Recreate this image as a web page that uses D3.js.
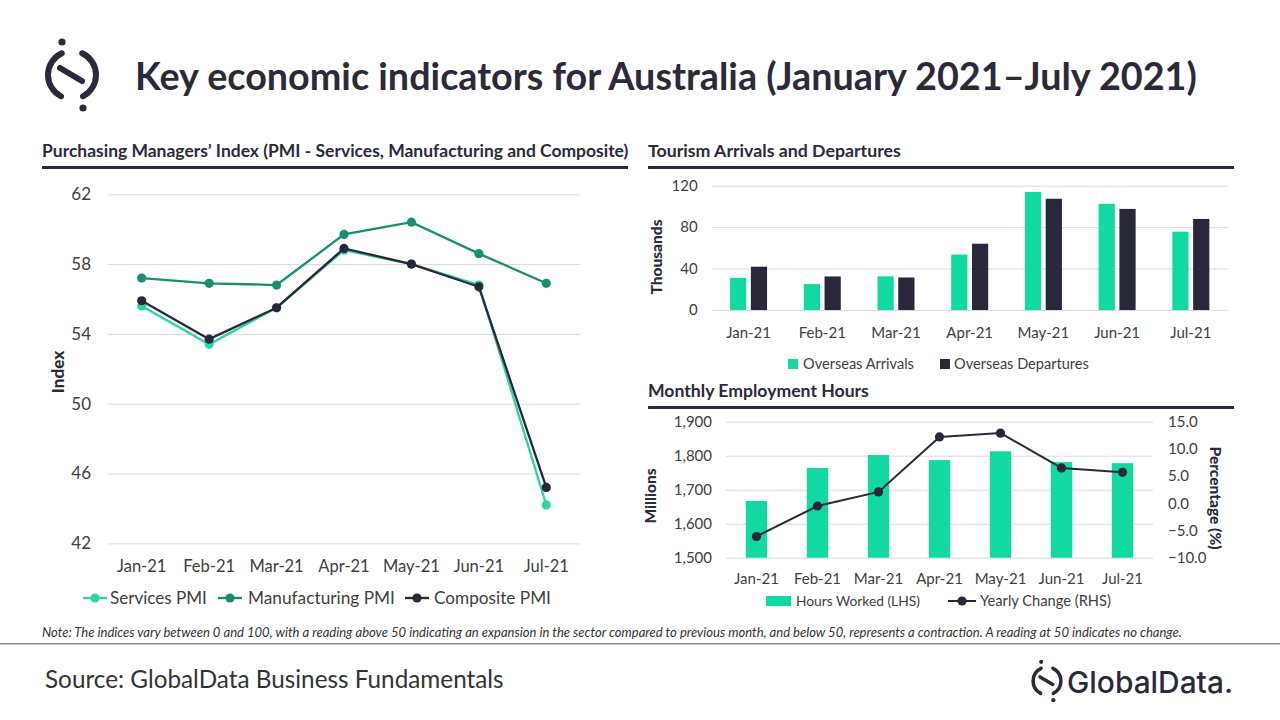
<!DOCTYPE html>
<html><head><meta charset="utf-8">
<script src="https://cdn.jsdelivr.net/npm/d3@7"></script>
<style>
html,body{margin:0;padding:0;background:#fff;}
svg{display:block;}
</style></head>
<body>
<svg id="c" width="1280" height="720"></svg>
<script>
// ---------- DATA ----------
const months = ["Jan-21","Feb-21","Mar-21","Apr-21","May-21","Jun-21","Jul-21"];
const pmiTicks = [42,46,50,54,58,62];
const servicesPMI = [55.6,53.4,55.5,58.8,58.0,56.8,44.2];
const manufacturingPMI = [57.2,56.9,56.8,59.7,60.4,58.6,56.9];
const compositePMI = [55.9,53.7,55.5,58.9,58.0,56.7,45.2];
const tourismTicks = [0,40,80,120];
const overseasArrivals = [31.0,25.0,32.5,53.5,114.0,102.5,75.6];
const overseasDepartures = [41.8,32.4,31.4,64.0,107.4,97.6,87.9];
const hoursTicks = [1500,1600,1700,1800,1900];
const changeTicks = [-10,-5,0,5,10,15];
const hoursWorked = [1667,1764,1802,1787,1813,1781,1778];
const yearlyChange = [-6.1,-0.5,2.1,12.2,12.9,6.5,5.7];

// ---------- STYLE ----------
const FONT = "Lato, 'Open Sans', sans-serif";
const DARK = "#2a2a3b";
const C_SERV = "#2ad6a2";
const C_MANU = "#1a8e70";
const C_COMP = "#28283a";
const C_GREEN = "#12d9a0";
const GRID = "#d9d9d9";
const TICK = "#404040";

const svg = d3.select("#c");

function fit(sel, w){
  const l = sel.node().getComputedTextLength();
  const fs = parseFloat(sel.attr("font-size"));
  if (l > 0) sel.attr("font-size", fs * w / l);
  return sel;
}
function txt(x, y, s, fs, opts={}){
  const t = svg.append("text").attr("x", x).attr("y", y).text(s)
    .attr("font-family", opts.family || FONT).attr("font-size", fs)
    .attr("fill", opts.fill || DARK)
    .attr("font-weight", opts.weight || "normal");
  if (opts.style) t.attr("font-style", opts.style);
  if (opts.anchor) t.attr("text-anchor", opts.anchor);
  if (opts.width) fit(t, opts.width);
  return t;
}
function vlabel(x, y, s, fs, rot){
  svg.append("text").attr("transform", `translate(${x},${y}) rotate(${rot})`).attr("text-anchor", "middle")
    .attr("font-family", FONT).attr("font-weight", "900").attr("font-size", fs).attr("fill", DARK).text(s);
}

// ---------- LOGO ----------
function drawLogo(cx, cy, s){
  const g = svg.append("g").attr("transform", `translate(${cx},${cy}) scale(${s})`);
  const arc = d3.arc().innerRadius(21).outerRadius(27).cornerRadius(3);
  const deg = Math.PI/180;
  g.append("path").attr("d", arc({startAngle: 200*deg, endAngle: 342*deg})).attr("fill", DARK);
  g.append("path").attr("d", arc({startAngle: 18*deg, endAngle: 160*deg})).attr("fill", DARK);
  g.append("path").attr("d", "M-12,-7 L10,6")
    .attr("fill", "none").attr("stroke", DARK).attr("stroke-width", 6).attr("stroke-linecap","round");
  g.append("circle").attr("cx", -10).attr("cy", -33).attr("r", 3.6).attr("fill", DARK);
  g.append("circle").attr("cx", 11).attr("cy", 33).attr("r", 3.6).attr("fill", DARK);
}
drawLogo(72, 75, 1.0);
drawLogo(1047, 681, 0.58);

// ---------- TITLES ----------
txt(135, 90, "Key economic indicators for Australia (January 2021\u2013July 2021)", 34, {weight:"bold", width:1062});

txt(42, 157, "Purchasing Managers\u2019 Index (PMI - Services, Manufacturing and Composite)", 17, {weight:"bold", width:587});
txt(648, 157, "Tourism Arrivals and Departures", 17, {weight:"bold", width:253});
txt(648, 397, "Monthly Employment Hours", 17, {weight:"bold", width:221});
svg.append("rect").attr("x", 42).attr("y", 166).attr("width", 586).attr("height", 3).attr("fill", DARK);
svg.append("rect").attr("x", 648).attr("y", 166).attr("width", 586).attr("height", 3).attr("fill", DARK);
svg.append("rect").attr("x", 648).attr("y", 406).attr("width", 586).attr("height", 3).attr("fill", DARK);

function styleAxis(g, fs){
  g.select(".domain").remove();
  g.selectAll(".tick line").remove();
  g.selectAll("text").attr("font-family", FONT).attr("font-size", fs).attr("fill", TICK);
}
function grid(g, scale, ticks, x0, x1){
  g.append("g").attr("transform", `translate(${x0},0)`)
    .call(d3.axisLeft(scale).tickValues(ticks).tickSize(-(x1-x0)).tickFormat(""))
    .call(a => { a.select(".domain").remove(); a.selectAll(".tick line").attr("stroke", GRID).attr("stroke-width", 1); });
}

// ---------- PMI CHART ----------
{
  const x = d3.scaleBand().domain(months).range([108, 580]);
  const y = d3.scaleLinear().domain([42, 62]).range([543.3, 194.3]);
  const g = svg.append("g");
  grid(g, y, pmiTicks, 108, 580);
  g.append("g").attr("transform", "translate(108,0)")
    .call(d3.axisLeft(y).tickValues(pmiTicks).tickSize(0).tickPadding(17))
    .call(a => styleAxis(a, 17));
  g.append("g").attr("transform", "translate(0,543.3)")
    .call(d3.axisBottom(x).tickSize(0).tickPadding(17))
    .call(a => styleAxis(a, 16.5));
  const cx = m => x(m) + x.bandwidth()/2;
  const series = [[servicesPMI, C_SERV], [manufacturingPMI, C_MANU], [compositePMI, C_COMP]];
  series.forEach(([vals, col]) => {
    const line = d3.line().x((d,i) => cx(months[i])).y(d => y(d));
    g.append("path").attr("d", line(vals)).attr("fill", "none").attr("stroke", col).attr("stroke-width", 2.3);
    g.selectAll(null).data(vals).enter().append("circle")
      .attr("cx", (d,i) => cx(months[i])).attr("cy", d => y(d)).attr("r", 4.6).attr("fill", col);
  });
  vlabel(64, 372, "Index", 17, -90);
  // legend
  const leg = [["Services PMI", C_SERV, 83, 110, 97], ["Manufacturing PMI", C_MANU, 218, 248, 147], ["Composite PMI", C_COMP, 405, 434, 117]];
  leg.forEach(([name, col, sx, tx, tw]) => {
    svg.append("line").attr("x1", sx).attr("x2", sx+24).attr("y1", 598).attr("y2", 598).attr("stroke", col).attr("stroke-width", 2.3);
    svg.append("circle").attr("cx", sx+12).attr("cy", 598).attr("r", 4.6).attr("fill", col);
    txt(tx, 604, name, 16.5, {fill: TICK, width: tw});
  });
}

// ---------- TOURISM CHART ----------
{
  const x = d3.scaleBand().domain(months).range([711.7, 1227.7]);
  const keys = ["arr", "dep"];
  const bw = x.bandwidth();
  const x1 = d3.scaleBand().domain(keys).range([(bw-37)/2, (bw+37)/2]).paddingInner(0.22);
  const y = d3.scaleLinear().domain([0, 120]).range([310, 185.7]);
  const g = svg.append("g");
  grid(g, y, tourismTicks, 711.7, 1227.7);
  g.append("g").attr("transform", "translate(711.7,0)")
    .call(d3.axisLeft(y).tickValues(tourismTicks).tickSize(0).tickPadding(14))
    .call(a => styleAxis(a, 15));
  g.append("g").attr("transform", "translate(0,310)")
    .call(d3.axisBottom(x).tickSize(0).tickPadding(17))
    .call(a => styleAxis(a, 15));
  const data = months.map((m,i) => ({m, arr: overseasArrivals[i], dep: overseasDepartures[i]}));
  const cols = {arr: C_GREEN, dep: C_COMP};
  keys.forEach(k => {
    g.selectAll(null).data(data).enter().append("rect")
      .attr("x", d => x(d.m) + x1(k)).attr("width", x1.bandwidth())
      .attr("y", d => y(d[k])).attr("height", d => y(0) - y(d[k])).attr("fill", cols[k]);
  });
  vlabel(662, 257, "Thousands", 15.5, -90);
  svg.append("rect").attr("x", 788).attr("y", 359).attr("width", 10).attr("height", 10).attr("fill", C_GREEN);
  txt(803, 369, "Overseas Arrivals", 15, {fill: TICK, width: 111});
  svg.append("rect").attr("x", 940).attr("y", 359).attr("width", 10).attr("height", 10).attr("fill", C_COMP);
  txt(954, 369, "Overseas Departures", 15, {fill: TICK, width: 135});
}

// ---------- EMPLOYMENT CHART ----------
{
  const x = d3.scaleBand().domain(months).range([726, 1153]).paddingInner(0.65).paddingOuter(0.325);
  const yL = d3.scaleLinear().domain([1500, 1900]).range([557.7, 421.7]);
  const yR = d3.scaleLinear().domain([-10, 15]).range([557.7, 421.7]);
  const g = svg.append("g");
  grid(g, yL, hoursTicks, 726, 1153);
  g.append("g").attr("transform", "translate(726,0)")
    .call(d3.axisLeft(yL).tickValues(hoursTicks).tickSize(0).tickPadding(14).tickFormat(d3.format(",")))
    .call(a => styleAxis(a, 15));
  g.append("g").attr("transform", "translate(1153,0)")
    .call(d3.axisRight(yR).tickValues(changeTicks).tickSize(0).tickPadding(15).tickFormat(d3.format(".1f")))
    .call(a => styleAxis(a, 15));
  g.append("g").attr("transform", "translate(0,557.7)")
    .call(d3.axisBottom(x).tickSize(0).tickPadding(16))
    .call(a => styleAxis(a, 15));
  g.selectAll(null).data(hoursWorked).enter().append("rect")
    .attr("x", (d,i) => x(months[i])).attr("width", x.bandwidth())
    .attr("y", d => yL(d)).attr("height", d => yL(1500) - yL(d)).attr("fill", C_GREEN);
  const cx = m => x(m) + x.bandwidth()/2;
  const line = d3.line().x((d,i) => cx(months[i])).y(d => yR(d));
  g.append("path").attr("d", line(yearlyChange)).attr("fill", "none").attr("stroke", C_COMP).attr("stroke-width", 2);
  g.selectAll(null).data(yearlyChange).enter().append("circle")
    .attr("cx", (d,i) => cx(months[i])).attr("cy", d => yR(d)).attr("r", 4.6).attr("fill", C_COMP);
  vlabel(656, 496, "Millions", 15.5, -90);
  vlabel(1210, 498, "Percentage (%)", 15.5, 90);
  svg.append("rect").attr("x", 766).attr("y", 596).attr("width", 25).attr("height", 10).attr("fill", C_GREEN);
  txt(796, 606, "Hours Worked (LHS)", 15, {fill: TICK, width: 124});
  svg.append("line").attr("x1", 948).attr("x2", 976).attr("y1", 601).attr("y2", 601).attr("stroke", C_COMP).attr("stroke-width", 2);
  svg.append("circle").attr("cx", 962).attr("cy", 601).attr("r", 4.6).attr("fill", C_COMP);
  txt(980, 606, "Yearly Change (RHS)", 15, {fill: TICK, width: 131});
}

// ---------- FOOTER ----------
txt(42, 637, "Note:  The indices vary between  0 and 100, with a reading above 50 indicating an expansion in the sector compared to previous month, and below 50, represents  a contraction.  A reading at 50 indicates no change.", 11, {style:"italic", fill:"#333", width:1141});
svg.append("rect").attr("x", 0).attr("y", 643).attr("width", 1280).attr("height", 1.5).attr("fill", "#8c8c8c");
txt(45, 688, "Source: GlobalData Business Fundamentals", 22, {fill:"#333", width:459});
txt(1067, 693, "GlobalData.", 28, {family:"Inter, 'Noto Sans', sans-serif", weight:"500", fill:DARK, width:166});
</script>
</body></html>
